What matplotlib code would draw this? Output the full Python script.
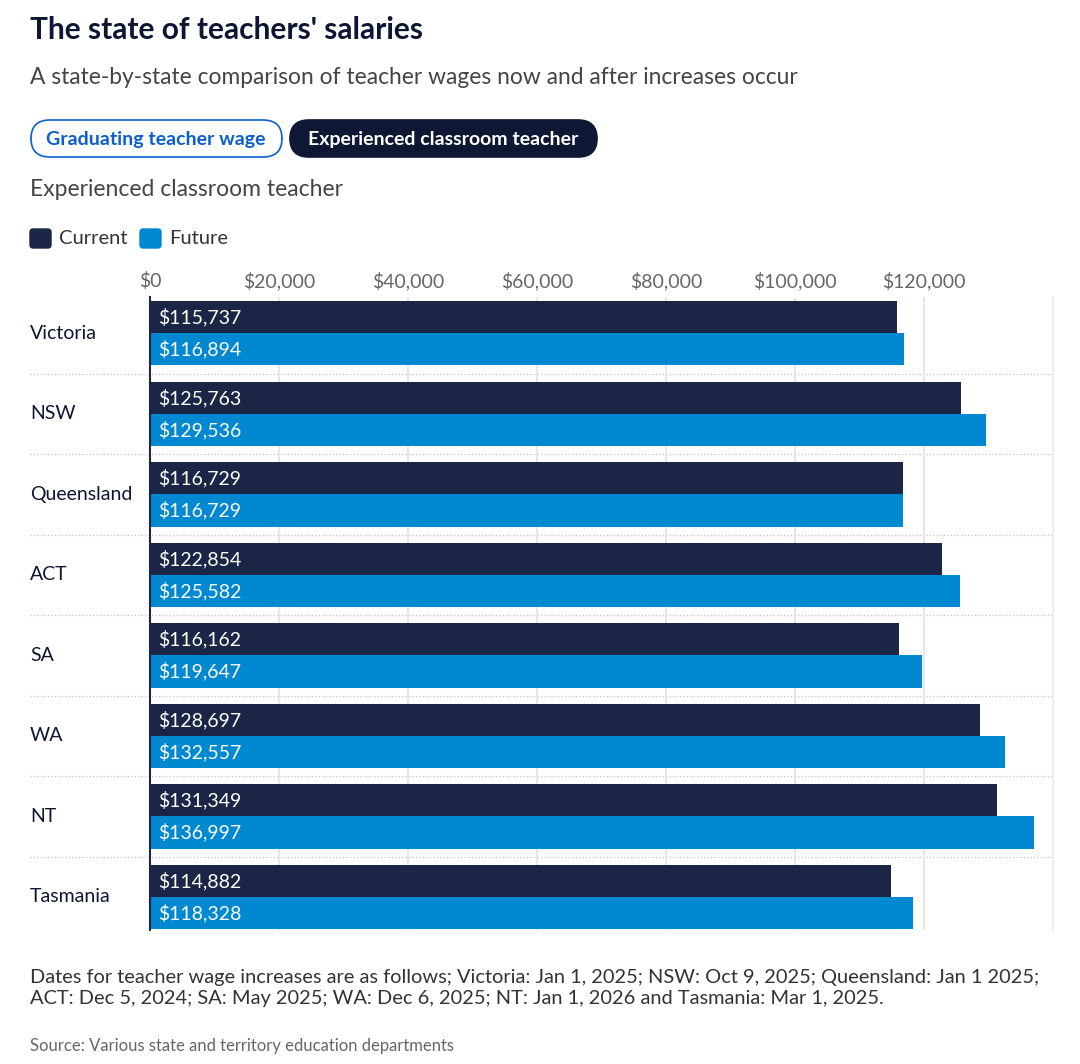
import matplotlib
matplotlib.use("Agg")
import matplotlib.pyplot as plt
from matplotlib.patches import FancyBboxPatch
from matplotlib.ticker import FuncFormatter

plt.rcParams["font.family"] = ["Lato", "DejaVu Sans"]

# ===== 数据 =====
states = ["Victoria", "NSW", "Queensland", "ACT", "SA", "WA", "NT", "Tasmania"]
current = [115737, 125763, 116729, 122854, 116162, 128697, 131349, 114882]
future = [116894, 129536, 116729, 125582, 119647, 132557, 136997, 118328]
x_ticks = [0, 20000, 40000, 60000, 80000, 100000, 120000]

TITLE = "The state of teachers' salaries"
SUBTITLE = "A state-by-state comparison of teacher wages now and after increases occur"
SECTION = "Experienced classroom teacher"
NOTE = ("Dates for teacher wage increases are as follows; Victoria: Jan 1, 2025; NSW: Oct 9, 2025; Queensland: Jan 1 2025;\n"
        "ACT: Dec 5, 2024; SA: May 2025; WA: Dec 6, 2025; NT: Jan 1, 2026 and Tasmania: Mar 1, 2025.")
SOURCE = "Source: Various state and territory education departments"

# ===== 颜色 =====
C_CUR = "#1b2646"
C_FUT = "#0088d1"
C_TITLE = "#0d1733"
C_BTN = "#0a5fc9"

W, H = 1080, 1064


def fy(px):
    return 1 - px / H


def fx(px):
    return px / W


fig = plt.figure(figsize=(W / 100, H / 100), dpi=100)
ax = fig.add_axes([fx(150), fy(930), fx(1053) - fx(150), fy(297) - fy(930)])

h = 0.4
ys = list(range(len(states)))
ax.barh([y - h / 2 for y in ys], current, height=h, color=C_CUR, zorder=3)
ax.barh([y + h / 2 for y in ys], future, height=h, color=C_FUT, zorder=3)

for y, c, f in zip(ys, current, future):
    ax.text(0.009, y - h / 2, f"${c:,}", transform=ax.get_yaxis_transform(),
            color="white", fontsize=14, va="center", ha="left", zorder=4)
    ax.text(0.009, y + h / 2, f"${f:,}", transform=ax.get_yaxis_transform(),
            color="white", fontsize=14, va="center", ha="left", zorder=4)

ax.set_xlim(0, 140000)
ax.set_ylim(len(states) - 0.59, -0.45)

ax.set_xticks(x_ticks)
ax.xaxis.set_major_formatter(FuncFormatter(lambda v, p: f"${v:,.0f}"))
ax.xaxis.tick_top()
ax.tick_params(axis="x", length=0, labelsize=14, labelcolor="#666666", pad=5)
ax.set_yticks([])
ax.grid(axis="x", color="#e2e2e2", linewidth=1.2, zorder=0)

for s in ["top", "bottom"]:
    ax.spines[s].set_visible(False)
ax.spines["left"].set_color(C_CUR)
ax.spines["left"].set_linewidth(1.5)
ax.spines["left"].set_zorder(5)
ax.spines["right"].set_color("#ececec")
ax.spines["right"].set_linewidth(1.2)

# 分隔虚线 + 州名
x_left = (30 - 150) / 903
for y in ys[:-1]:
    ax.plot([x_left, 1.0], [y + 0.5, y + 0.5], transform=ax.get_yaxis_transform(),
            color="#c8c8c8", linestyle=(0, (1, 1.5)), linewidth=1, clip_on=False, zorder=1)
for y, name in zip(ys, states):
    ax.text(x_left, y, name, transform=ax.get_yaxis_transform(), fontsize=14,
            color=C_TITLE, va="center", ha="left")

# 标题区
fig.text(fx(30), fy(30), TITLE, fontsize=21.5, fontweight="bold", color=C_TITLE, va="center")
fig.text(fx(30), fy(78), SUBTITLE, fontsize=16.4, color="#444444", va="center")

# 按钮
b1 = FancyBboxPatch((fx(31), fy(157)), fx(282) - fx(31), fy(120) - fy(157),
                    boxstyle="round,pad=0,rounding_size=0.0175", transform=fig.transFigure,
                    facecolor="white", edgecolor=C_BTN, linewidth=1.2)
b2 = FancyBboxPatch((fx(290), fy(157)), fx(597) - fx(290), fy(120) - fy(157),
                    boxstyle="round,pad=0,rounding_size=0.0175", transform=fig.transFigure,
                    facecolor="#0e1733", edgecolor="#0e1733", linewidth=1.2)
fig.patches.extend([b1, b2])
fig.text(fx(156), fy(139), "Graduating teacher wage", fontsize=14, fontweight="bold",
         color=C_BTN, ha="center", va="center")
fig.text(fx(443), fy(139), "Experienced classroom teacher", fontsize=14, fontweight="bold",
         color="white", ha="center", va="center")

fig.text(fx(30), fy(190), SECTION, fontsize=16.5, color="#444444", va="center")

# 图例
for x0, col, lab in [(30, C_CUR, "Current"), (140, C_FUT, "Future")]:
    sq = FancyBboxPatch((fx(x0), fy(248)), fx(21), 19 / H,
                        boxstyle="round,pad=0,rounding_size=0.003", transform=fig.transFigure,
                        facecolor=col, edgecolor=col)
    fig.patches.append(sq)
    fig.text(fx(x0 + 29), fy(238), lab, fontsize=14.5, color="#333333", va="center")

# 注释
fig.text(fx(30), fy(988), NOTE, fontsize=14.4, color="#333333", va="center", linespacing=1.35)
fig.text(fx(30), fy(1046), SOURCE, fontsize=12, color="#666666", va="center")

fig.savefig("out.png", dpi=100)
